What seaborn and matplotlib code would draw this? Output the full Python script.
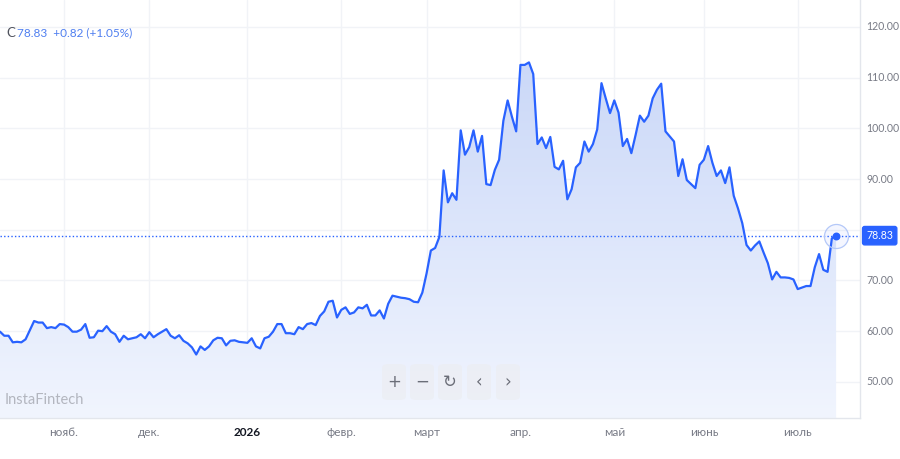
import numpy as np
import pandas as pd
import matplotlib
matplotlib.use("Agg")
import matplotlib.pyplot as plt
import seaborn as sns
from matplotlib.colors import LinearSegmentedColormap
from matplotlib.patches import FancyBboxPatch

# daily closes (weekdays from 13 Oct 2025)
close_a = [59.9, 59.1, 59.1, 57.8, 57.9, 57.8, 58.4, 60.2, 62.0, 61.7, 61.7, 60.6, 60.8, 60.6,
           61.4, 61.3, 60.8, 59.9, 59.9, 60.3, 61.4, 58.7, 58.8, 60.1, 60.0, 61.0, 59.9, 59.4,
           57.9, 59.1, 58.4, 58.6, 58.8, 59.4, 58.6, 59.8, 58.8, 59.4, 59.9, 60.4, 59.1, 58.6,
           59.2, 58.1, 57.6, 56.8, 55.4, 57.0, 56.3, 57.0, 58.2, 58.7, 58.6, 57.2, 58.1, 58.2,
           57.9, 57.8, 57.7, 58.6, 57.0, 56.6, 58.6, 58.9, 59.9, 61.4, 61.4, 59.6, 59.6, 59.4, 60.8]
close_b = [60.4, 61.4, 61.6, 61.2, 63.0, 63.9, 65.8, 66.0, 62.7, 64.2, 64.7, 63.4, 63.7, 64.7,
           64.5, 65.2, 63.1, 63.1, 64.1, 62.5, 65.4, 67.0, 66.8, 66.6, 66.5, 66.3, 65.8, 65.7,
           67.6, 71.4, 75.9, 76.4, 78.6, 91.7, 85.4, 87.2, 85.9, 99.6, 94.8, 96.3, 99.6, 95.4,
           98.5, 89.0, 88.8, 91.8, 93.8, 101.5, 105.5, 102.3, 99.4, 112.5, 112.5, 113.0, 110.7,
           96.9, 98.2, 96.1, 98.3, 92.4, 91.9]
close_c = [93.6, 86.0, 88.0, 92.3, 93.2, 97.4, 95.4, 96.9, 99.8, 108.9, 105.9, 103.0, 105.5,
           103.1, 96.5, 97.9, 95.1, 98.7, 102.5, 101.3, 102.5, 105.9, 107.6, 108.8, 99.4, 98.4,
           97.4, 90.6, 93.9, 89.8, 89.0, 88.2, 92.8, 93.8, 96.5, 93.2, 90.6, 91.7, 89.2, 92.3,
           86.7, 84.2, 81.3, 77.0, 75.9, 76.9, 77.7, 75.5, 73.4, 70.2, 71.7, 70.6, 70.6, 70.5,
           70.2, 68.3, 68.6, 68.9, 68.9, 72.6, 75.2, 72.1, 71.7, 78.3, 78.83]
closes = close_a + close_b + close_c

last_price = 78.83
change = 0.82
change_pct = 1.05
ticker = "C"
y_ticks = [50, 60, 70, 80, 90, 100, 110, 120]
month_names = ["нояб.", "дек.", "2026", "февр.", "март", "апр.", "май", "июнь", "июль"]

dates = pd.bdate_range("2025-10-13", periods=len(closes))
df = pd.DataFrame({"date": dates, "close": closes})
df["i"] = np.arange(len(df))
month_start = df.groupby(df["date"].dt.to_period("M"))["i"].min().iloc[1:]

blue = "#2962ff"
grey = "#787b86"
W, H = 900, 459

sns.set_style("white")
plt.rcParams["font.family"] = ["Lato", "DejaVu Sans"]

fig = plt.figure(figsize=(W / 100, H / 100), dpi=100)
ax = fig.add_axes([0, 1 - 418 / H, 860 / W, 418 / H])

ymin, ymax = 42.88, 125.3
xmax = df["i"].iloc[-1] + 5.6
ax.set_ylim(ymin, ymax)
ax.set_xlim(0, xmax)

# gradient area under the line
poly = ax.fill_between(df["i"], df["close"], ymin, color="none", lw=0)
cmap = LinearSegmentedColormap.from_list("g", ["#f1f5fe", "#c4d3f7"])
grad = np.linspace(0, 1, 256).reshape(-1, 1)
im = ax.imshow(grad, extent=[0, xmax, ymin, ymax], origin="lower", aspect="auto",
               cmap=cmap, zorder=1)
im.set_clip_path(poly.get_paths()[0], transform=ax.transData)

sns.lineplot(data=df, x="i", y="close", ax=ax, color=blue, lw=1.6, zorder=3)

ax.axhline(last_price, color=blue, lw=1, ls=(0, (1, 1.6)), zorder=2)
last_i = df["i"].iloc[-1]
ax.scatter([last_i], [last_price], s=300, facecolor="#2962ff0d",
           edgecolor="#b4c8f8", lw=0.9, zorder=4)
ax.scatter([last_i], [last_price], s=22, color=blue, zorder=5)

# grid
ax.set_yticks(y_ticks)
ax.set_xticks(month_start.values)
ax.grid(True, color="#f1f3f7", lw=1)
ax.set_axisbelow(True)
ax.tick_params(axis="both", length=0)
ax.set_yticklabels([])
ax.set_xticklabels([])
ax.set_xlabel("")
ax.set_ylabel("")
for s in ["top", "left"]:
    ax.spines[s].set_visible(False)
for s in ["right", "bottom"]:
    ax.spines[s].set_color("#e3e6ec")
    ax.spines[s].set_linewidth(1)

# right price scale (labels hidden where the price tag sits)
for v in y_ticks:
    if abs(v - last_price) < 4:
        continue
    ax.annotate(f"{v:.2f}", (1, v), xycoords=("axes fraction", "data"),
                xytext=(4.5, 0), textcoords="offset points", va="center", ha="left",
                fontsize=7.6, color=grey, annotation_clip=False)
ax.annotate(f"{last_price:.2f}", (1, last_price), xycoords=("axes fraction", "data"),
            xytext=(4.5, 0), textcoords="offset points", va="center", ha="left",
            fontsize=7.6, color="white", annotation_clip=False,
            bbox=dict(boxstyle="round,pad=0.35,rounding_size=0.2", fc=blue, ec=blue))

# month labels
for pos, name in zip(month_start.values, month_names):
    bold = name == "2026"
    ax.annotate(name, (pos, 0), xycoords=("data", "axes fraction"),
                xytext=(0, -10.5), textcoords="offset points", ha="center", va="center",
                fontsize=8.5, color="#131722" if bold else grey,
                fontweight="bold" if bold else "normal", annotation_clip=False)

# header and watermark
fig.text(6 / W, 1 - 33 / H, ticker, fontsize=9.5, color="#50535e", va="center")
fig.text(17 / W, 1 - 33 / H, f"{last_price:.2f}  +{change:.2f} (+{change_pct:.2f}%)",
         fontsize=8.5, color="#4f7ff0", va="center")
fig.text(5 / W, 1 - 400 / H, "InstaFintech", fontsize=10.5, color="#b3b6bf", va="center")

# zoom / navigation buttons
for cx, sym in zip([394, 422, 450, 479, 508], ["+", "−", "↻", "‹", "›"]):
    fig.patches.append(FancyBboxPatch(((cx - 12) / W, 1 - 400 / H), 24 / W, 36 / H,
                                      boxstyle="round,pad=0,rounding_size=0.008",
                                      transform=fig.transFigure, fc="#eceef3", ec="none",
                                      alpha=0.8, zorder=5))
    fig.text(cx / W, 1 - 382 / H, sym, fontsize=12, color="#6b6e78", ha="center",
             va="center", family="DejaVu Sans", zorder=6)

fig.savefig("out.png", dpi=100)
